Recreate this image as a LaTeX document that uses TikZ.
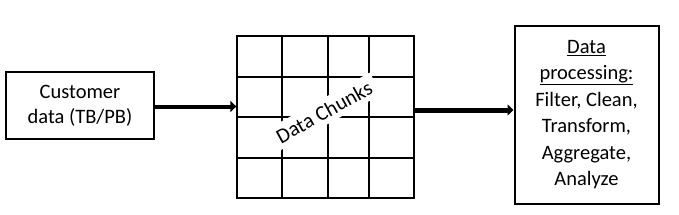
\documentclass[tikz,border=0pt]{standalone}
\usepackage{fontspec}
\setmainfont{Carlito}
\usetikzlibrary{arrows.meta}
\tikzset{
  box/.style={draw=black, line width=2pt, fill=white, align=center},
  gridline/.style={draw=black, line width=1.3pt},
  bigarrow/.style={draw=black, line width=4.5pt, -{Triangle[length=6pt,width=11pt]}},
}
\begin{document}
\begin{tikzpicture}[x=1pt,y=-1pt]
\useasboundingbox[fill=white] (0,0) rectangle (679,214);
% left box
\node[box, minimum width=148pt, minimum height=67pt, inner sep=0pt, font=\fontsize{20.5pt}{25pt}\selectfont] (cust) at (80,105.5) {Customer\\data (TB/PB)};
% grid
\node[draw=black, line width=1.3pt, minimum width=177pt, minimum height=162pt, inner sep=0pt] (grid) at (325.5,117) {};
\foreach \x in {282,328,369} \draw[gridline] (\x,36) -- (\x,198);
\foreach \y in {77,117,158} \draw[gridline] (237,\y) -- (414,\y);
\node[fill=white, rotate=29, inner xsep=6pt, inner ysep=5pt, font=\fontsize{21pt}{24pt}\selectfont] (chunks) at (324,112) {Data Chunks};
% right box
\node[box, minimum width=144pt, minimum height=178pt, inner sep=0pt, font=\fontsize{20.5pt}{26.5pt}\selectfont] (proc) at (586.5,114.5) {\underline{Data}\\\underline{processing:}\\Filter, Clean,\\Transform,\\Aggregate,\\Analyze};
% arrows
\draw[bigarrow, line width=4pt] (cust.east |- 0,106.5) -- (grid.west |- 0,106.5);
\draw[bigarrow, line width=5pt] (grid.east |- 0,110) -- (proc.west |- 0,110);
\end{tikzpicture}
\end{document}
